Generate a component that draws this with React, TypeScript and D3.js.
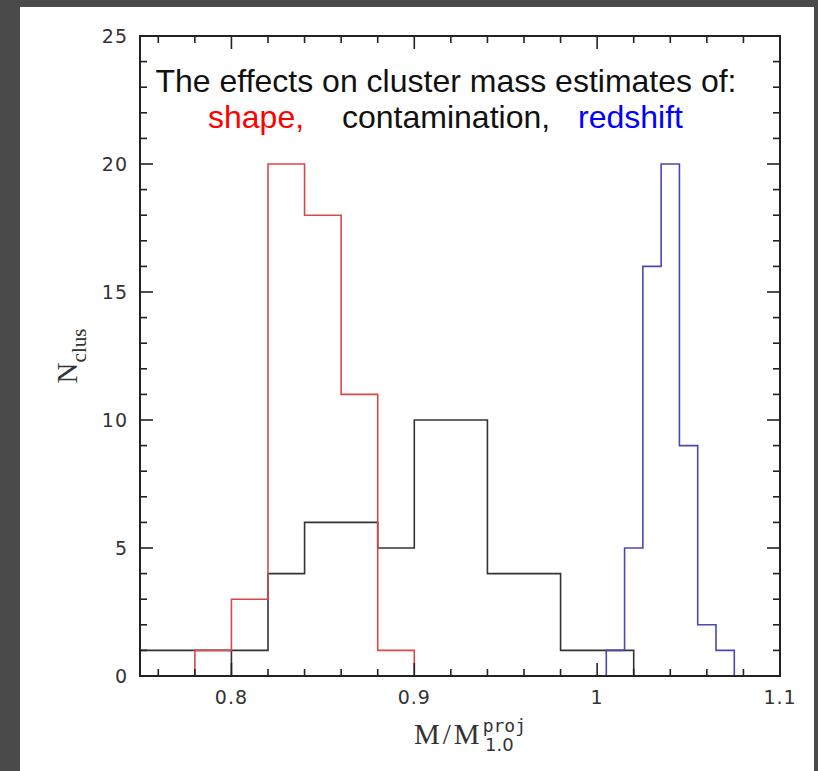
import React from "react";
import * as d3 from "d3";

// ---- data ----
const shapeStart = 0.78;
const shapeWidth = 0.02;
const shapeCounts = [1, 3, 20, 18, 11, 1];

const contamStart = 0.74;
const contamWidth = 0.02;
const contamCounts = [1, 1, 1, 1, 4, 6, 6, 5, 10, 10, 4, 4, 1, 1];
const contamDropX = [0.8];
const contamDropY = [1];

const redshiftStart = 1.005;
const redshiftWidth = 0.01;
const redshiftCounts = [1, 5, 16, 20, 9, 2, 1];

const xMajorTicks = [0.8, 0.9, 1.0, 1.1];
const xTickLabels = ["0.8", "0.9", "1", "1.1"];
const yMajorTicks = [0, 5, 10, 15, 20, 25];
const yTickLabels = ["0", "5", "10", "15", "20", "25"];

const W = 818;
const H = 771;
const L = 140, R = 780, T = 36, B = 676;

export default function App() {
  const x = d3.scaleLinear().domain([0.75, 1.1]).range([L, R]);
  const y = d3.scaleLinear().domain([0, 25]).range([B, T]);

  const stepPoints = (start: number, width: number, counts: number[]) => {
    const pts: [number, number][] = [[start, 0]];
    counts.forEach((c, i) => {
      pts.push([start + i * width, c]);
      pts.push([start + (i + 1) * width, c]);
    });
    pts.push([start + counts.length * width, 0]);
    return pts;
  };
  const line = d3.line<[number, number]>().x((d) => x(d[0])).y((d) => y(d[1]));

  const xMinor = d3.range(0.76, 1.1001, 0.02).filter((v) => !xMajorTicks.some((m) => Math.abs(m - v) < 1e-6));
  const yMinor = d3.range(1, 25, 1).filter((v) => v % 5 !== 0);

  const axisColor = "#222";
  const tickFont = "'DejaVu Sans', sans-serif";

  return (
    <svg width={W} height={H} style={{ position: "absolute", left: 0, top: 0 }}>
      <rect x={0} y={0} width={W} height={H} fill="#4a4a4a" />
      <rect x={20} y={7} width={794} height={H - 7} fill="#ffffff" />
      <defs>
        <clipPath id="plotclip">
          <rect x={L} y={T} width={R - L} height={B - T} />
        </clipPath>
      </defs>

      <g clipPath="url(#plotclip)" fill="none" strokeWidth={1.6}>
        <path d={line(stepPoints(contamStart, contamWidth, contamCounts)) || ""} stroke="#333" />
        {contamDropX.map((v, i) => (
          <line key={i} x1={x(v)} x2={x(v)} y1={y(0)} y2={y(contamDropY[i])} stroke="#333" />
        ))}
        <path d={line(stepPoints(shapeStart, shapeWidth, shapeCounts)) || ""} stroke="#d94848" />
        <path d={line(stepPoints(redshiftStart, redshiftWidth, redshiftCounts)) || ""} stroke="#4848b0" />
      </g>

      {/* ticks */}
      <g stroke={axisColor} strokeWidth={1.6}>
        {xMajorTicks.map((v) => (
          <g key={"xm" + v}>
            <line x1={x(v)} x2={x(v)} y1={B} y2={B - 13} />
            <line x1={x(v)} x2={x(v)} y1={T} y2={T + 13} />
          </g>
        ))}
        {xMinor.map((v) => (
          <g key={"xn" + v}>
            <line x1={x(v)} x2={x(v)} y1={B} y2={B - 7} />
            <line x1={x(v)} x2={x(v)} y1={T} y2={T + 7} />
          </g>
        ))}
        {yMajorTicks.map((v) => (
          <g key={"ym" + v}>
            <line x1={L} x2={L + 13} y1={y(v)} y2={y(v)} />
            <line x1={R} x2={R - 13} y1={y(v)} y2={y(v)} />
          </g>
        ))}
        {yMinor.map((v) => (
          <g key={"yn" + v}>
            <line x1={L} x2={L + 7} y1={y(v)} y2={y(v)} />
            <line x1={R} x2={R - 7} y1={y(v)} y2={y(v)} />
          </g>
        ))}
      </g>
      <rect x={L} y={T} width={R - L} height={B - T} fill="none" stroke={axisColor} strokeWidth={2} />

      {/* tick labels */}
      <g fontFamily={tickFont} fontSize={19} fill="#333">
        {xMajorTicks.map((v, i) => (
          <text key={"xl" + v} x={x(v)} y={B + 28} textAnchor="middle" letterSpacing={1}>{xTickLabels[i]}</text>
        ))}
        {yMajorTicks.map((v, i) => (
          <text key={"yl" + v} x={L - 12} y={y(v) + 7} textAnchor="end" letterSpacing={1}>{yTickLabels[i]}</text>
        ))}
      </g>

      {/* axis labels */}
      <text x={0} y={0} transform={`translate(77, 356) rotate(-90)`} textAnchor="middle"
        fontFamily="'Liberation Serif', serif" fill="#333">
        <tspan fontSize={29}>N</tspan>
        <tspan fontSize={21} dy={9}>clus</tspan>
      </text>
      <text x={414} y={744} fontFamily="'Liberation Serif', serif" fontSize={29} fill="#333">
        <tspan letterSpacing={3}>M/M</tspan>
        <tspan fontFamily="'DejaVu Sans Mono', monospace" fontSize={18} dy={-12}>proj</tspan>
        <tspan fontFamily="'DejaVu Sans', sans-serif" fontSize={18} dx={-41} dy={19}>1.0</tspan>
      </text>

      {/* title */}
      <g fontFamily="'Liberation Sans', Arial, sans-serif" fontSize={32}>
        <text x={446} y={92} textAnchor="middle" fill="#111">The effects on cluster mass estimates of:</text>
        <text x={208} y={128} fill="#ff0000">shape,</text>
        <text x={342} y={128} fill="#111">contamination,</text>
        <text x={578} y={128} fill="#0000ff">redshift</text>
      </g>
    </svg>
  );
}
